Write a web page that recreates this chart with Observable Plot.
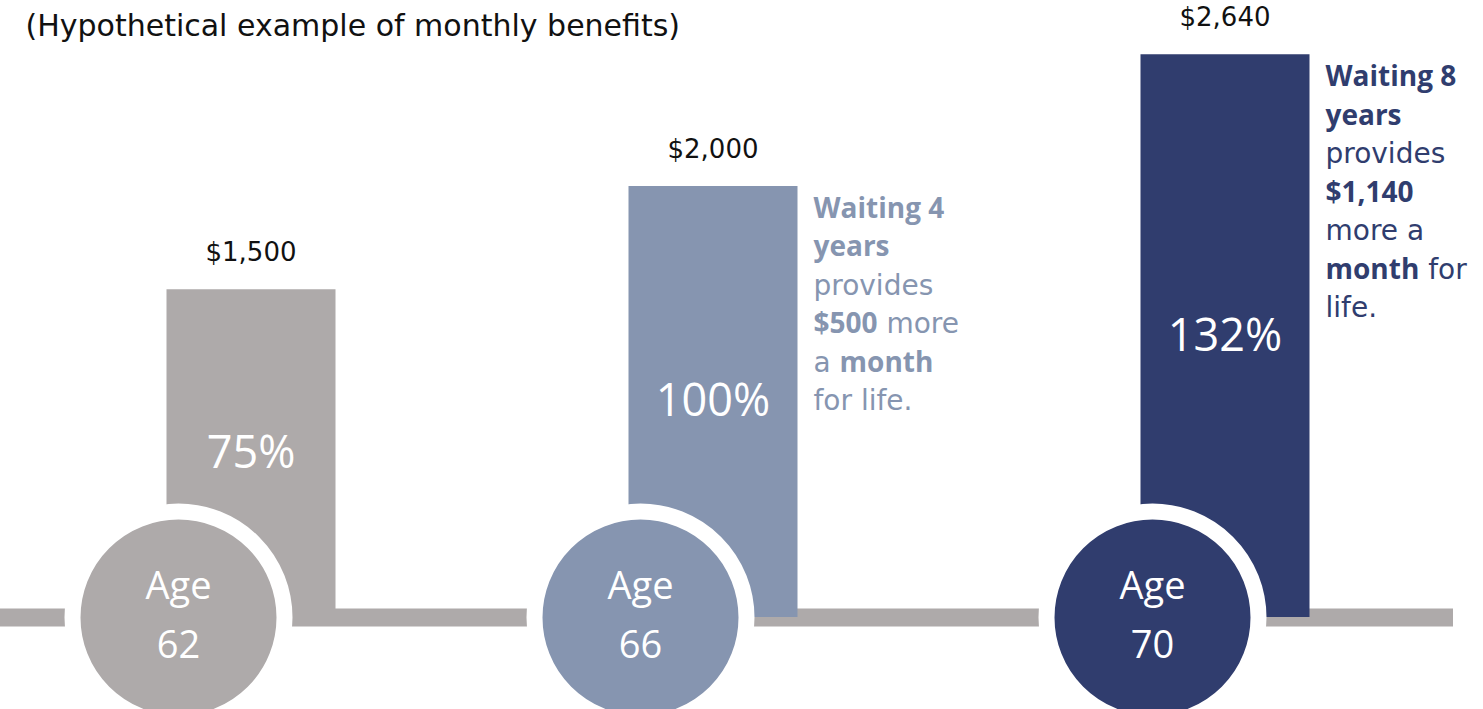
<!DOCTYPE html>
<html>
<head>
<meta charset="utf-8">
<script src="https://cdn.jsdelivr.net/npm/d3@7"></script>
<script src="https://cdn.jsdelivr.net/npm/@observablehq/plot@0.6"></script>
<style>
  body { margin: 0; background: #fff; }
  #chart svg { display: block; }
</style>
</head>
<body>
<div id="chart"></div>
<script>
// ---- data ----
const title = "(Hypothetical example of monthly benefits)";
const ages = [62, 66, 70];
const benefits = [1500, 2000, 2640];
const percents = ["75%", "100%", "132%"];
const colors = ["#aeaaaa", "#8695b0", "#303d6e"];
const noteAges = [66, 70];
const noteValues = [2000, 2640];
const noteColors = ["#8695b0", "#303d6e"];
const noteTexts = [
  "**Waiting 4**\n**years**\nprovides\n**$500** more\na **month**\nfor life.",
  "**Waiting 8**\n**years**\nprovides\n**$1,140**\nmore a\n**month** for\nlife."
];

const rows = ages.map((age, i) => ({age, value: benefits[i], pct: percents[i], color: colors[i]}));
const notes = noteAges.map((age, i) => ({age, value: noteValues[i], text: noteTexts[i], color: noteColors[i]}));

const yLo = -91, yHi = 2903;
const fmt = d3.format("$,");
const gothic = "'Century Gothic', 'DejaVu Sans', sans-serif";
const sans = "'Open Sans', Calibri, sans-serif";

const chart = Plot.plot({
  width: 1483,
  height: 709,
  marginTop: 0,
  marginBottom: 92,
  marginLeft: 0,
  marginRight: 30,
  x: {type: "linear", domain: ages, range: [178, 640, 1152], axis: null},
  y: {domain: [yLo, yHi], axis: null},
  color: {type: "identity"},
  marks: [
    Plot.ruleY([yLo], {stroke: "#aeaaaa", strokeWidth: 18}),
    Plot.ruleX(rows, {x: "age", y1: "value", y2: () => yLo, stroke: "color", strokeWidth: 169, dx: 72.5}),
    Plot.dot(rows, {x: "age", frameAnchor: "bottom", r: 106, fill: "color", stroke: "white", strokeWidth: 16}),
    Plot.text(rows, {x: "age", y: "value", text: d => fmt(d.value), dx: 72.5, dy: -37,
      fontSize: 26, fontFamily: gothic, fill: "#111"}),
    Plot.text(rows, {x: "age", y: d => (d.value + yLo) / 2, text: "pct", dx: 72.5,
      fontSize: 45, fontFamily: sans, fill: "white"}),
    Plot.text(rows, {x: "age", frameAnchor: "bottom", lineAnchor: "middle", text: d => `Age\n${d.age}`, dy: -8,
      lineHeight: 1.55, fontSize: 38, fontFamily: sans, fill: "white"}),
    Plot.text(notes, {x: "age", y: "value", text: "text", fill: "color", dx: 173, dy: 4,
      textAnchor: "start", lineAnchor: "top", fontSize: 28, lineHeight: 1.375,
      fontFamily: gothic}),
    Plot.text([title], {frameAnchor: "top-left", text: d => d, dx: 25, dy: 26,
      textAnchor: "start", lineAnchor: "middle", fontSize: 30, fontFamily: gothic, fill: "#111"})
  ]
});

// mixed bold / regular segments inside annotation lines
d3.select(chart).selectAll("tspan").each(function () {
  const line = d3.select(this);
  const s = line.text();
  if (!s.includes("**")) return;
  line.text(null);
  s.split("**").forEach((seg, j) => {
    if (!seg) return;
    const t = line.append("tspan").text(seg);
    if (j % 2) t.attr("font-weight", "bold").attr("font-family", sans);
  });
});

document.getElementById("chart").appendChild(chart);
</script>
</body>
</html>
